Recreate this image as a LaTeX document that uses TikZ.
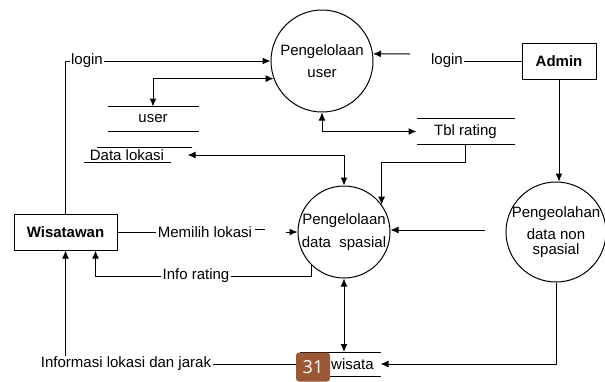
\documentclass[tikz,border=0pt]{standalone}
\usepackage{fontspec}
\setmainfont{Liberation Sans}
\newfontfamily\pgfont{Open Sans}
\usetikzlibrary{arrows.meta}
\definecolor{pgbrown}{RGB}{155,88,54}
\begin{document}
\begin{tikzpicture}[x=1pt,y=-1pt,line width=1pt,>={Latex[length=8pt,width=7pt]},
		every node/.style={font=\fontsize{15}{18}\selectfont},
		proc/.style={circle,draw,inner sep=0pt},
		ent/.style={draw,font=\fontsize{15}{18}\selectfont\bfseries,minimum height=36pt},
		store/.style={inner sep=0pt,minimum height=24pt},
		lbl/.style={inner sep=1pt}]
	\useasboundingbox (0,0) rectangle (605,381);
	% proses
	\node[proc,minimum size=102pt,label={[align=center,font=\fontsize{15}{22}\selectfont]center:Pengelolaan\\user}] (pu) at (322,61) {};
	\node[proc,minimum size=92pt,label={[align=center,font=\fontsize{15}{23}\selectfont]center:Pengelolaan\\data\ \ spasial}] (ps) at (344,232) {};
	\node[proc,minimum size=100pt,label={[align=center,font=\fontsize{15}{15}\selectfont]center:Pengeolahan\\[7pt]data non\\spasial}] (pn) at (556,232) {};
	% entitas
	\node[ent,minimum width=74pt] (admin) at (559,61) {Admin};
	\node[ent,minimum width=103pt] (wis) at (65.5,232) {Wisatawan};
	% data store
	\node[store,minimum width=90pt] (us) at (153,119) {user};
	\draw (us.north west) -- (us.north east) (us.south west) -- (us.south east);
	\node[store,minimum width=97pt,minimum height=25pt] (tr) at (465.5,131.5) {Tbl rating};
	\draw (tr.north west) -- (tr.north east) (tr.south west) -- (tr.south east);
	\node[store,minimum width=80pt,minimum height=23pt] (tw) at (340,364) {Tbl wisata};
	\draw (tw.north west) -- (tw.north east) (tw.south west) -- (tw.south east);
	\node[lbl] (dl) at (127,155) {Data lokasi};
	\draw (97,147) -- (192,147) (84,162) -- (171,162);
	% label aliran
	\node[lbl] (lg1) at (87,61) {login};
	\node[lbl] (lg2) at (447,61) {login};
	\node[lbl] (ml) at (205,232) {Memilih lokasi};
	\node[lbl] (ir) at (196,276) {Info rating};
	\node[lbl] (inf) at (126,364) {Informasi lokasi dan jarak};
	\coordinate (ua) at (410,54);
	\coordinate (rin) at (485,230);
	\coordinate (mc) at (286,232);
	% aliran
	\draw (wis.north) |- (lg1.west);
	\draw[->] (lg1.east) -- (pu.west);
	\draw[<->] (pu.200) -| (us.north);
	\draw (admin.west) -- (lg2.east);
	\draw[->] (ua) -- (pu.8);
	\draw[<->] (pu.south) |- (tr.west);
	\draw[->] (tr.south) -- ++(0,18) -| (ps.36);
	\draw[<->] ([xshift=22]dl.east) -| (ps.north);
	\draw[->] (rin) -- (rin -| ps.east);
	\draw (wis.east) -- (ml.west);
	\draw ([xshift=1,yshift=3]ml.east) -- ++(10,0);
	\draw[->] (mc) -- (ps.west);
	\draw (ps.226) |- (ir.east);
	\draw[->] (ir.west) -| ([xshift=30]wis.south);
	\draw[->] (admin.south) -- (admin.south |- pn.north);
	\draw[->] (pn.south) |- (tw.east);
	\draw[<->] (ps.south) -- (ps.south |- tw.north);
	\draw (tw.west) -- (inf.east);
	\draw[->] (inf.north -| wis.south) -- (wis.south);
	% nomor halaman
	\node[fill=pgbrown,rounded corners=3pt,text=white,minimum width=34pt,minimum height=29pt,font=\pgfont\fontsize{18}{18}\selectfont] (pg) at (313,367) {31};
\end{tikzpicture}
\end{document}
